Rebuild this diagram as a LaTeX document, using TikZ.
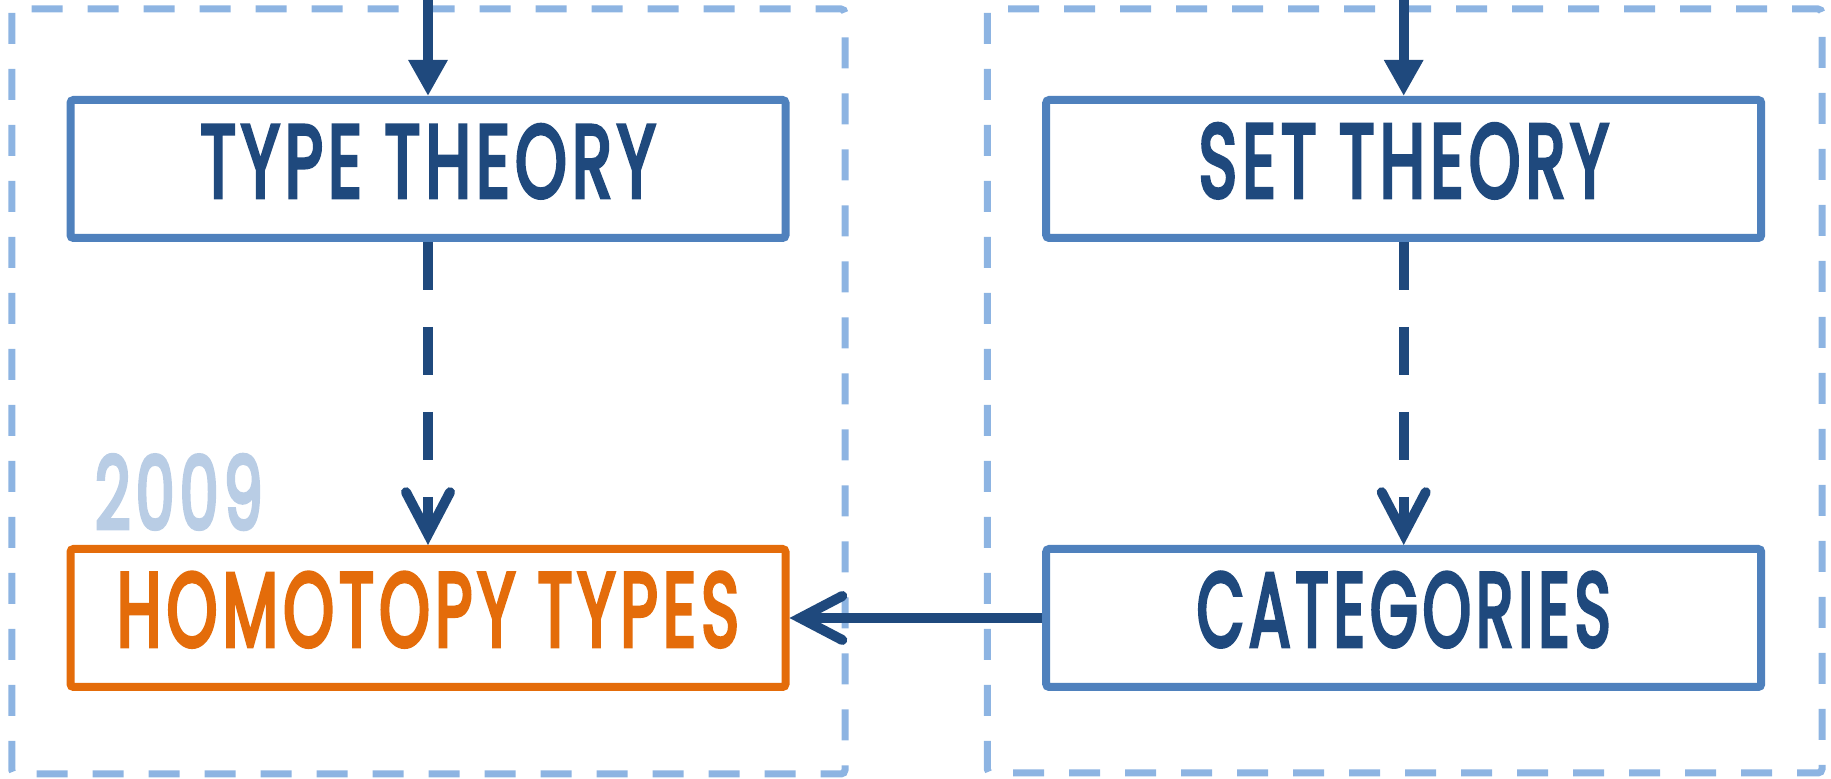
\documentclass[tikz,border=0pt]{standalone}
\usepackage{fontspec}
\usetikzlibrary{arrows.meta}
\newfontfamily\lblfont{Poppins}[LetterSpace=8, FakeBold=4.5]
\definecolor{frameblue}{RGB}{141,180,226}
\definecolor{boxblue}{RGB}{79,129,189}
\definecolor{inkblue}{RGB}{31,73,125}
\definecolor{orangeink}{RGB}{228,108,10}
\definecolor{yearblue}{RGB}{185,205,229}
% caps label stretched to a fixed width and cap height
\newcommand{\capslabel}[3]{\resizebox{#1}{#2}{\lblfont #3}}

\begin{document}
\begin{tikzpicture}[x=0.5pt,y=-0.5pt,
  frame/.style={draw=frameblue, line width=3.5pt, dash pattern=on 15.5pt off 12.5pt, rounded corners=2pt},
  topic/.style={draw=boxblue, line width=4pt, rounded corners=1.5pt, fill=white,
    minimum width=357.5pt, minimum height=69pt, inner sep=0pt,
    text height=36pt, text depth=8pt, text=inkblue},
  focus/.style={topic, draw=orangeink, text=orangeink},
  link/.style={draw=inkblue, line width=5pt},
  solidtip/.style={-{Triangle[length=18pt,width=18.5pt]}},
  opentip/.style={-{Straight Barb[length=21pt,width=22pt,line cap=round,line join=miter]}},
]
\useasboundingbox (0,0) rectangle (1831,779);

% two dashed panels
\draw[frame] (11.8,9) rectangle (845,774);
\draw[frame] (987.3,9) rectangle (1822,773);

% boxes
\node[topic] (tt) at (428,169) {\capslabel{227.5pt}{36pt}{TYPE THEORY}};
\node[topic] (st) at (1403.7,169) {\capslabel{205pt}{36.5pt}{SET THEORY}};
\node[focus] (ht) at (428,618) {\capslabel{311pt}{36.7pt}{HOMOTOPY TYPES}};
\node[topic] (cat) at (1403.7,618) {\capslabel{207pt}{36.7pt}{CATEGORIES}};

% year
\node[text=yearblue, inner sep=0pt] (yr) at (178.9,492) {\capslabel{84pt}{37pt}{2009}};

% incoming arrows from above
\coordinate (ttin) at (428,0);
\coordinate (stin) at (1403.7,0);
\draw[link,solidtip] (ttin) -- (tt.north);
\draw[link,solidtip] (stin) -- (st.north);

% dashed arrows
\draw[link,opentip,dash pattern=on 24pt off 18.5pt] (tt.south) -- (ht.north);
\draw[link,opentip,dash pattern=on 24pt off 18.5pt] (st.south) -- (cat.north);

% categories to homotopy types
\draw[link,opentip] (cat.west) -- (ht.east);
\end{tikzpicture}
\end{document}
